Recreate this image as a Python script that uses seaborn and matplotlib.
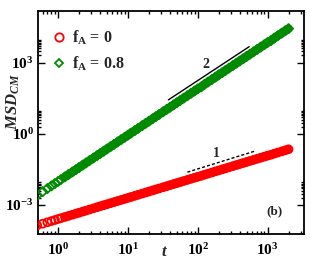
import numpy as np
import pandas as pd
import matplotlib
matplotlib.use("Agg")
import matplotlib.pyplot as plt
import matplotlib.ticker as mticker
from matplotlib.lines import Line2D
import seaborn as sns

# ---- data ----
t = [0.5, 0.6, 0.7, 0.8, 0.9,
     1.0, 1.1, 1.25, 1.4, 1.6, 1.8, 2.0, 2.25, 2.5, 2.8, 3.2, 3.6, 4.0, 4.5, 5.0, 5.6, 6.3, 7.1, 8.0, 9.0,
     10, 11, 12.5, 14, 16, 18, 20, 22.5, 25, 28, 32, 36, 40, 45, 50, 56, 63, 71, 80, 90,
     100, 112, 125, 140, 160, 180, 200, 225, 250, 280, 320, 360, 400, 450, 500, 560, 630, 710, 800, 900,
     1000, 1120, 1250, 1400, 1600, 1800, 2000]

msd_f0 = [1.386e-4, 1.630e-4, 1.870e-4, 2.107e-4, 2.339e-4,
          2.57e-4, 2.80e-4, 3.14e-4, 3.47e-4, 3.90e-4, 4.34e-4, 4.76e-4, 5.29e-4, 5.81e-4, 6.42e-4,
          7.23e-4, 8.03e-4, 8.83e-4, 9.80e-4, 1.077e-3, 1.190e-3, 1.321e-3, 1.470e-3, 1.636e-3, 1.815e-3,
          1.995e-3, 2.171e-3, 2.434e-3, 2.691e-3, 3.030e-3, 3.366e-3, 3.699e-3, 4.104e-3, 4.511e-3, 4.984e-3,
          5.616e-3, 6.234e-3, 6.851e-3, 7.607e-3, 8.359e-3, 9.241e-3, 1.026e-2, 1.141e-2, 1.270e-2, 1.409e-2,
          1.549e-2, 1.685e-2, 1.890e-2, 2.090e-2, 2.353e-2, 2.613e-2, 2.872e-2, 3.186e-2, 3.502e-2, 3.869e-2,
          4.360e-2, 4.841e-2, 5.319e-2, 5.906e-2, 6.490e-2, 7.175e-2, 7.965e-2, 8.859e-2, 9.858e-2, 1.094e-1,
          0.1202, 0.1308, 0.1466, 0.1622, 0.1826, 0.2028, 0.2229]

msd_f08 = [2.562e-3, 3.656e-3, 4.937e-3, 6.406e-3, 8.061e-3,
           0.0099, 0.01192, 0.01530, 0.01909, 0.02475, 0.03115, 0.03825, 0.04813, 0.05911, 0.07373,
           0.09564, 0.1204, 0.1478, 0.1859, 0.2284, 0.2848, 0.3584, 0.4525, 0.5710, 0.7184,
           0.8824, 1.063, 1.364, 1.701, 2.206, 2.776, 3.409, 4.290, 5.268, 6.571,
           8.524, 10.73, 13.17, 16.57, 20.36, 25.39, 31.94, 40.33, 50.90, 64.03,
           78.65, 94.72, 121.5, 151.6, 196.6, 247.4, 303.9, 382.3, 469.6, 585.7,
           759.8, 956.2, 1174, 1477, 1814, 2263, 2847, 3595, 4537, 5707,
           7010, 8442, 10830, 13520, 17530, 22060, 27090]

guide2_t = [38, 546]
guide2_y = [27, 4700]
guide1_t = [71, 681]
guide1_y = [0.0242, 0.192]

series_labels = [r"$\mathregular{f_A}$ = 0", r"$\mathregular{f_A}$ = 0.8"]
xticks = [1, 10, 100, 1000]
yticks = [1e-3, 1, 1e3]

RED = "#ff0000"
GREEN = "#008a00"

# ---- style ----
sns.set_theme(style="ticks")
plt.rcParams["font.family"] = ["Liberation Serif", "DejaVu Serif"]
plt.rcParams["font.weight"] = "bold"
plt.rcParams["mathtext.fontset"] = "custom"
plt.rcParams["mathtext.rm"] = "Liberation Serif:bold"
plt.rcParams["mathtext.bf"] = "Liberation Serif:bold"
plt.rcParams["mathtext.it"] = "Liberation Serif:bold:italic"
plt.rcParams["axes.linewidth"] = 1.3

fig = plt.figure(figsize=(3.17, 2.64), dpi=100)
ax = fig.add_axes([38 / 317, 30 / 264, 266 / 317, 223 / 264])

df0 = pd.DataFrame({"t": t, "msd": msd_f0})
df8 = pd.DataFrame({"t": t, "msd": msd_f08})

# dense sampling in the original makes the marker trail a solid band after t ~ 1
dense0 = df0[df0["t"] >= 1.25]
dense8 = df8[df8["t"] >= 1.25]
sns.lineplot(data=dense0, x="t", y="msd", ax=ax, color=RED, linewidth=6.0,
             solid_capstyle="round", zorder=2, estimator=None, sort=False)
sns.lineplot(data=dense8, x="t", y="msd", ax=ax, color=GREEN, linewidth=6.0,
             solid_capstyle="round", zorder=2, estimator=None, sort=False)

sns.scatterplot(data=df0, x="t", y="msd", ax=ax, marker="o", s=32,
                facecolor="none", edgecolor=RED, linewidth=1.3, zorder=3, legend=False)
sns.scatterplot(data=df8, x="t", y="msd", ax=ax, marker="D", s=22,
                facecolor="none", edgecolor=GREEN, linewidth=1.3, zorder=3, legend=False)

ax.set_xscale("log")
ax.set_yscale("log")
ax.set_xlim(0.514, 3334)
ax.set_ylim(6.0e-5, 1.5e5)

sns.lineplot(x=guide2_t, y=guide2_y, ax=ax, color="black", linewidth=1.0)
sns.lineplot(x=guide1_t, y=guide1_y, ax=ax, color="black", linewidth=1.0, linestyle=(0, (2.2, 1.5)))
ax.text(131, 800, "2", fontsize=10, ha="center", va="center")
ax.text(187, 0.154, "1", fontsize=10, ha="center", va="center")
ax.text(0.89, 0.10, "(b)", transform=ax.transAxes, fontsize=9.5, ha="center", va="center")

# ticks
ax.xaxis.set_major_locator(mticker.FixedLocator(xticks))
ax.xaxis.set_minor_locator(mticker.LogLocator(base=10, subs=np.arange(2, 10), numticks=20))
ax.yaxis.set_major_locator(mticker.FixedLocator(yticks))
ymin_ticks = [m * 10.0 ** k for k in (-3, 0, 3) for m in range(2, 10)]
ax.yaxis.set_minor_locator(mticker.FixedLocator(ymin_ticks))

def fmt(v, pos):
    e = int(round(np.log10(v)))
    return r"$10^{%d}$" % e

ax.xaxis.set_major_formatter(mticker.FuncFormatter(fmt))
ax.yaxis.set_major_formatter(mticker.FuncFormatter(fmt))
ax.yaxis.set_minor_formatter(mticker.NullFormatter())
ax.xaxis.set_minor_formatter(mticker.NullFormatter())
ax.tick_params(which="both", direction="in", top=True, right=True, width=1.0, colors="black")
ax.tick_params(which="major", length=5, labelsize=11)
ax.tick_params(axis="x", which="major", pad=6)
ax.tick_params(axis="y", which="major", pad=3)
ax.tick_params(which="minor", length=2.5)
for sp in ax.spines.values():
    sp.set_color("black")

ax.set_xlabel("")
ax.set_ylabel("")
fig.text(165 / 317, 1 - 252 / 264, "$t$", fontsize=12, ha="center", va="center")
fig.text(13 / 317, 1 - 102 / 264, r"$MSD_{CM}$", rotation=90, fontsize=12,
         ha="center", va="center")

# legend
handles = [Line2D([], [], marker="o", ls="none", mfc="none", mec=RED, ms=6, mew=1.3),
           Line2D([], [], marker="D", ls="none", mfc="none", mec=GREEN, ms=4.5, mew=1.3)]
ax.legend(handles, series_labels, loc="upper left", bbox_to_anchor=(0.0, 0.97),
          frameon=False, fontsize=11.5, handletextpad=0.25, labelspacing=0.45,
          handlelength=1.2, borderpad=0.2)

fig.savefig("out.png", dpi=100)
